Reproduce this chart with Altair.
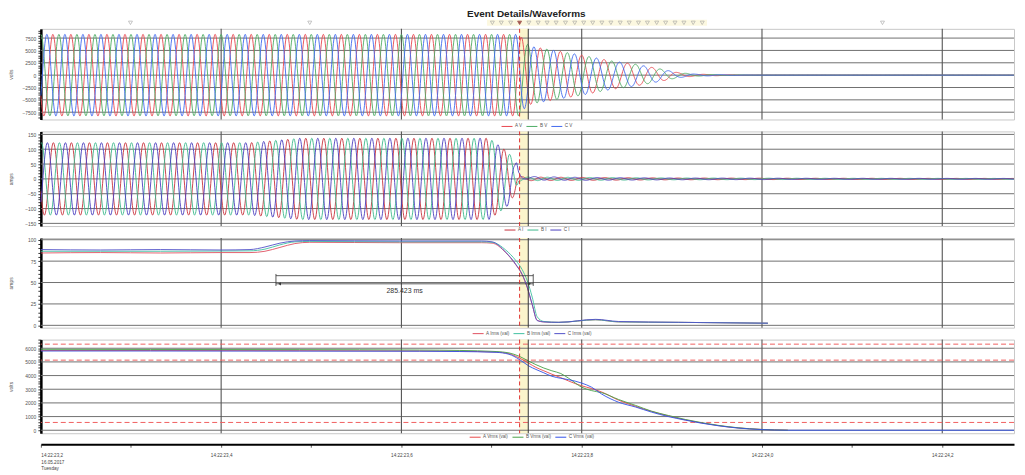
import numpy as np
import pandas as pd
import altair as alt

FONT = "Liberation Sans"

# ---------------- time frame (seconds after 14:22:23,2) ----------------
T_MAX = 1.0796
TRIP_T = 0.5311
LATCH_T = 0.5407
x_major = [0.2, 0.4, 0.6, 0.8, 1.0]
x_tick_vals = [0.0, 0.1, 0.2, 0.3, 0.4, 0.5, 0.6, 0.7, 0.8, 0.9, 1.0]
x_tick_labels = ["14:22:23,2", "14:22:23,4", "14:22:23,6", "14:22:23,8", "14:22:24,0", "14:22:24,2"]
x_label_times = [0.0, 0.2, 0.4, 0.6, 0.8, 1.0]
first_label_extra = ["16.05.2017", "Tuesday"]

# ---------------- event markers along the top ----------------
marker_t = [0.0994, 0.2983, 0.5009, 0.5108, 0.5212, 0.5311, 0.5414, 0.5517, 0.5616,
            0.5716, 0.5820, 0.5923, 0.6022, 0.6122, 0.6224, 0.6324, 0.6427, 0.6527,
            0.6630, 0.6729, 0.6832, 0.6931, 0.7035, 0.7134, 0.7237, 0.7337, 0.9337]
marker_trip = [t == TRIP_T for t in marker_t]

# ---------------- panel 1: phase voltages ----------------
v_names = ["A V", "B V", "C V"]
v_colors = ["#e8474f", "#4dab63", "#4169ee"]
v_env_t = [0.0, 0.5311, 0.5380, 0.5448, 0.5635, 0.6000, 0.6331, 0.6597, 0.6884, 0.7072, 0.7260, 0.7624, 0.7956, 1.0796]
v_env_peak = [8250, 8250, 6400, 5800, 5200, 4050, 2860, 2200, 1200, 500, 200, 60, 0, 0]
freq_t = [0.0, 0.5311, 0.5635, 0.6000, 0.6597, 0.7260, 0.7956, 1.0796]
freq_hz = [50, 50, 45, 41, 37, 34, 32, 32]
phase_shift_deg = [120, 0, -120]

# ---------------- panel 2: phase currents ----------------
i_names = ["A I", "B I", "C I"]
i_colors = ["#c8323c", "#3cb88c", "#4b3fbf"]
i_env_t = [0.0, 0.2320, 0.2870, 0.4972, 0.5116, 0.5193, 0.5267, 0.5300, 0.5400, 0.6000, 0.7000, 0.8500, 1.0796]
i_env_peak = [122, 122, 137, 137, 105, 88, 45, 8, 6, 5, 3, 2, 1.5]
i_dc_t = [0.0, 0.5260, 0.5280, 0.5330, 0.5450, 0.6000, 1.0796]
i_dc_c = [0, 0, 24, 8, 2, 0, 0]

# ---------------- panel 3: RMS currents ----------------
irms_names = ["A Irms (val)", "B Irms (val)", "C Irms (val)"]
irms_colors = ["#e05060", "#40c0a0", "#5050c8"]
irms_t = [0.0, 0.0663, 0.1326, 0.1989, 0.2320, 0.2486, 0.2652, 0.2818, 0.2983, 0.3978, 0.4890, 0.5006,
          0.5157, 0.5267, 0.5340, 0.5396, 0.5451, 0.5506, 0.5580, 0.5746, 0.6155, 0.6409, 0.7072, 0.8066]
irms_a = [84.5, 85.0, 84.5, 85.0, 85.0, 86.5, 91.0, 95.5, 97.0, 96.5, 96.5, 96.0,
          85.0, 71.0, 59.0, 44.0, 24.0, 6.0, 4.0, 3.5, 6.5, 4.0, 3.5, 2.5]
irms_b = [86.5, 86.5, 86.5, 86.8, 87.0, 89.0, 94.0, 97.5, 98.0, 97.5, 97.5, 97.0,
          88.0, 76.0, 65.0, 52.0, 33.0, 10.0, 4.5, 3.5, 6.5, 4.0, 3.5, 2.5]
irms_c = [88.5, 88.0, 88.5, 88.0, 88.5, 91.5, 96.0, 98.5, 99.0, 98.5, 98.5, 97.5,
          85.5, 71.5, 59.5, 44.5, 24.5, 5.5, 4.0, 3.5, 7.0, 4.5, 3.5, 2.5]
meas_t1 = 0.2608
meas_ms = 285.423
meas_label = "285.423 ms"

# ---------------- panel 4: RMS voltages ----------------
vrms_names = ["A Vrms (val)", "B Vrms (val)", "C Vrms (val)"]
vrms_colors = ["#e84848", "#48a048", "#3050e8"]
vrms_t = [0.0, 0.1215, 0.2873, 0.4199, 0.4641, 0.5050, 0.5193, 0.5304, 0.5414, 0.5492, 0.5580, 0.5669,
          0.5768, 0.5856, 0.6000, 0.6110, 0.6221, 0.6409, 0.6597, 0.6773, 0.6961, 0.7149, 0.7326,
          0.7514, 0.7735, 0.7989, 0.8287]
vrms_a = [5830, 5830, 5820, 5800, 5780, 5720, 5600, 5300, 4900, 4600, 4350, 4100, 3850, 3600, 3250,
          3050, 2800, 2200, 1750, 1380, 1050, 760, 540, 340, 170, 60, 0]
vrms_b = [5920, 5910, 5900, 5870, 5840, 5760, 5660, 5420, 5050, 4800, 4550, 4350, 4150, 3800, 3150,
          2900, 2750, 2250, 1820, 1400, 1080, 790, 560, 360, 180, 60, 0]
vrms_c = [5800, 5800, 5790, 5780, 5760, 5700, 5560, 5200, 4700, 4450, 4200, 3950, 3800, 3700, 3450,
          3150, 2650, 2050, 1700, 1330, 1000, 740, 520, 330, 160, 50, 0]
vrms_limits = [6300, 5130, 570]

# ================= build tables =================
dt = 0.0005
t = np.round(np.arange(0.0, T_MAX + dt / 2, dt), 4)
f_inst = np.interp(t, freq_t, freq_hz)
theta = 2 * np.pi * np.concatenate([[0.0], np.cumsum(f_inst[:-1] * dt)])
v_env = np.interp(t, v_env_t, v_env_peak)
i_env = np.interp(t, i_env_t, i_env_peak)
i_dc = np.interp(t, i_dc_t, i_dc_c)

rows_v, rows_i = [], []
for k in range(3):
    sh = np.deg2rad(phase_shift_deg[k])
    vv = np.round(v_env * np.cos(theta + sh), 1)
    ii = i_env * np.cos(theta + sh - np.deg2rad(10))
    if k == 2:
        ii = ii + i_dc
    ii = np.round(ii, 2)
    rows_v.append(pd.DataFrame({"t": t, "value": vv, "phase": v_names[k]}))
    rows_i.append(pd.DataFrame({"t": t, "value": ii, "phase": i_names[k]}))
df_v = pd.concat(rows_v, ignore_index=True)
df_i = pd.concat(rows_i, ignore_index=True)

df_irms = pd.concat([pd.DataFrame({"t": irms_t, "value": vals, "phase": nm})
                     for vals, nm in zip([irms_a, irms_b, irms_c], irms_names)], ignore_index=True)
df_vrms = pd.concat([pd.DataFrame({"t": vrms_t, "value": vals, "phase": nm})
                     for vals, nm in zip([vrms_a, vrms_b, vrms_c], vrms_names)]
                    + [pd.DataFrame({"t": [T_MAX], "value": [0], "phase": [vrms_names[2]]})],
                    ignore_index=True)

xscale = alt.Scale(domain=[0, T_MAX], nice=False, zero=False)

# x-axis label expression from the label arrays
expr = "''"
for tv, lab in reversed(list(zip(x_label_times, x_tick_labels))):
    if tv == 0.0:
        lab_js = "[" + ",".join("'%s'" % s for s in [lab] + first_label_extra) + "]"
    else:
        lab_js = "'%s'" % lab
    expr = "abs(datum.value - %g) < 0.01 ? %s : (%s)" % (tv, lab_js, expr)

x_axis_bottom = alt.Axis(values=x_tick_vals, labelExpr=expr, grid=False, domainColor="black",
                         domainWidth=2, tickColor="#333", tickSize=3, tickWidth=0.8,
                         labelFontSize=4.6, labelColor="#444", labelFont=FONT, labelPadding=5.5,
                         offset=11, labelOverlap=False, labelLineHeight=6.7, title=None)


def panel(df_lines, names, colors, y_dom, minor, majors, major_step, ytitle, height,
          legend_x, legend_y, show_x=False, extra_below=(), extra_above=(), interp="linear"):
    yscale = alt.Scale(domain=y_dom, nice=False, zero=False)
    yaxis = alt.Axis(values=minor, format="d",
                     labelExpr="datum.value %% %d == 0 ? datum.label : ''" % major_step,
                     grid=False, domainColor="black", domainWidth=2.5, tickColor="black",
                     tickSize=3, tickWidth=0.8, labelFontSize=5, labelColor="#555", labelFont=FONT,
                     labelPadding=2, title=ytitle, titleFontSize=5, titleFont=FONT,
                     titleColor="#555", titleFontWeight="normal", titlePadding=3,
                     minExtent=24, maxExtent=24, labelOverlap=False)
    xaxis = x_axis_bottom if show_x else None
    X = lambda f: alt.X(f, scale=xscale, axis=xaxis)
    Y = lambda f: alt.Y(f, scale=yscale, axis=yaxis)

    band = alt.Chart(pd.DataFrame({"a": [TRIP_T], "b": [LATCH_T]})).mark_rect(
        color="#fbf5cc").encode(x=X("a:Q"), x2="b:Q")
    hgrid = alt.Chart(pd.DataFrame({"v": majors})).mark_rule(
        color="#707070", strokeWidth=1).encode(y=Y("v:Q"))
    vgrid = alt.Chart(pd.DataFrame({"t": x_major})).mark_rule(
        color="#555555", strokeWidth=1.1).encode(x=X("t:Q"))
    lines = alt.Chart(df_lines).mark_line(strokeWidth=0.9, interpolate=interp).encode(
        x=X("t:Q"), y=Y("value:Q"),
        color=alt.Color("phase:N", scale=alt.Scale(domain=names, range=colors),
                        legend=alt.Legend(orient="none", legendX=legend_x, legendY=legend_y,
                                          direction="horizontal", columns=3, title=None,
                                          symbolType="stroke", symbolSize=121,
                                          symbolStrokeWidth=1, labelFontSize=4.6,
                                          labelColor="#555", labelFont=FONT,
                                          columnPadding=1, labelOffset=2, padding=0)),
        order="t:Q")
    trip = alt.Chart(pd.DataFrame({"t": [TRIP_T]})).mark_rule(
        color="#e03030", strokeWidth=1, strokeDash=[4, 3]).encode(x=X("t:Q"))
    latch = alt.Chart(pd.DataFrame({"t": [LATCH_T]})).mark_rule(
        color="#333333", strokeWidth=1).encode(x=X("t:Q"))
    layers = [band, hgrid, vgrid] + [f(X, Y) for f in extra_below] + [lines, trip, latch] + \
             [f(X, Y) for f in extra_above]
    return alt.layer(*layers).properties(width=977, height=height)


# ---- extra layers ----
def markers(X, Y):
    dfm = pd.DataFrame({"t": marker_t, "trip": marker_trip})
    strip = alt.Chart(pd.DataFrame({"a": [0.495], "b": [0.739]})).mark_rect(
        color="#fcf8e0").encode(x=X("a:Q"), x2="b:Q", y=alt.value(-9), y2=alt.value(-3))
    pts = alt.Chart(dfm).mark_point(shape="triangle-down", size=16, strokeWidth=0.8).encode(
        x=X("t:Q"), y=alt.value(-6),
        color=alt.condition("datum.trip", alt.value("#7a1010"), alt.value("#9a9a9a")),
        fill=alt.condition("datum.trip", alt.value("#7a1010"), alt.value("transparent")))
    return alt.layer(strip, pts)


def limits(X, Y):
    return alt.Chart(pd.DataFrame({"v": vrms_limits})).mark_rule(
        color="#f06060", strokeWidth=1, strokeDash=[5, 3]).encode(y=Y("v:Q"))


def measure(X, Y):
    t2 = meas_t1 + meas_ms / 1000.0
    h = alt.Chart(pd.DataFrame({"a": [meas_t1, meas_t1], "b": [t2, t2], "v": [58, 48.5]})).mark_rule(
        color="#333333", strokeWidth=0.8).encode(x=X("a:Q"), x2="b:Q", y=Y("v:Q"))
    v = alt.Chart(pd.DataFrame({"t": [meas_t1, t2], "v1": [46, 46], "v2": [60, 60]})).mark_rule(
        color="#333333", strokeWidth=0.8).encode(x=X("t:Q"), y=Y("v1:Q"), y2="v2:Q")
    arr = alt.Chart(pd.DataFrame({"t": [meas_t1 + 0.004, t2 - 0.004], "v": [48.5, 48.5],
                                  "s": ["triangle-left", "triangle-right"]})).mark_point(
        filled=True, size=10, color="#333333", opacity=1).encode(
        x=X("t:Q"), y=Y("v:Q"), shape=alt.Shape("s:N", scale=None))
    txt = alt.Chart(pd.DataFrame({"t": [(meas_t1 + t2) / 2], "v": [40.5], "label": [meas_label]})).mark_text(
        fontSize=7, color="#333333", font=FONT).encode(x=X("t:Q"), y=Y("v:Q"), text="label:N")
    return alt.layer(h, v, arr, txt)


p1 = panel(df_v, v_names, v_colors, [-8970, 9370], list(range(-8500, 9001, 500)),
           [-7500, -5000, -2500, 0, 2500, 5000, 7500], 2500, "volts", 91, 462, 92,
           extra_above=[markers])
p2 = panel(df_i, i_names, i_colors, [-159, 160], list(range(-150, 151, 10)),
           [-150, -100, -50, 0, 50, 100, 150], 50, "amps", 95, 465, 93)
p3 = panel(df_irms, irms_names, irms_colors, [-2.7, 102], list(range(0, 101, 5)),
           [0, 25, 50, 75, 100], 25, "amps", 90, 433, 90, extra_above=[measure],
           interp="monotone")
p4 = panel(df_vrms, vrms_names, vrms_colors, [-219, 6632], list(range(0, 6601, 200)),
           [0, 1000, 2000, 3000, 4000, 5000, 6000], 1000, "volts", 94, 430, 92,
           show_x=True, extra_below=[limits], interp="monotone")

chart = alt.vconcat(p1, p2, p3, p4, spacing=12, bounds="flush").resolve_scale(
    x="independent", y="independent", color="independent").resolve_legend(
    color="independent").properties(
    title=alt.TitleParams("Event Details/Waveforms", fontSize=10, fontWeight="bold", font=FONT,
                          color="#222222", anchor="middle", offset=0, dx=14),
    padding={"left": 0, "top": 0, "right": 0, "bottom": 0},
).configure_view(stroke="#c8c8c8", strokeWidth=1)

chart.save("out.html", embed_options={"renderer": "svg", "actions": False})
